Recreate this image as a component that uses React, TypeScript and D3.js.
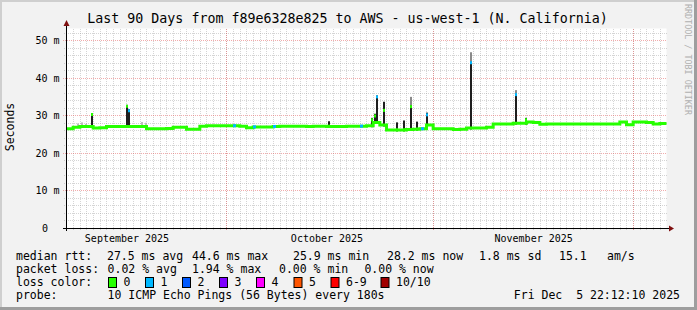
import React from "react";
import * as d3 from "d3";

const W = 697;
const H = 310;

const START = "2025-09-06T22:12:10Z";
const END = "2025-12-05T22:12:10Z";
const MEDIAN_STEP_HOURS = 24;

// daily median rtt (ms)
const medianRtt = [
  26.6, 27.0, 27.2, 27.2, 26.8, 26.9, 27.2, 27.2, 27.2, 27.2,
  27.2, 27.2, 26.6, 26.6, 26.6, 26.7, 27.0, 27.0, 26.5, 26.5,
  27.3, 27.4, 27.4, 27.4, 27.4, 27.4, 27.3, 26.9, 27.1, 27.1,
  27.1, 27.2, 27.3, 27.3, 27.3, 27.3, 27.2, 27.3, 27.3, 27.2,
  27.2, 27.2, 27.3, 27.3, 27.3, 27.4, 28.3, 27.6, 26.3, 26.3,
  26.3, 26.4, 26.5, 26.6, 27.6, 26.6, 26.6, 26.6, 26.4, 26.5,
  26.8, 26.8, 26.8, 27.0, 27.9, 27.9, 27.9, 28.1, 28.1, 28.4,
  28.3, 27.8, 27.9, 27.9, 27.9, 27.9, 27.9, 27.9, 27.9, 27.9,
  27.9, 27.9, 27.9, 28.4, 27.7, 28.4, 28.4, 28.3, 27.9, 28.0,
];

// smoke spikes
const spikeTimes = [
  "2025-09-10T18:00:00Z", "2025-09-15T22:00:00Z", "2025-09-16T05:00:00Z",
  "2025-10-16T07:00:00Z", "2025-10-22T18:00:00Z", "2025-10-23T03:00:00Z",
  "2025-10-23T12:00:00Z", "2025-10-24T10:00:00Z", "2025-10-26T12:00:00Z",
  "2025-10-27T13:00:00Z", "2025-10-28T11:00:00Z", "2025-10-29T12:00:00Z",
  "2025-10-31T00:00:00Z", "2025-11-06T11:00:00Z", "2025-11-13T08:00:00Z",
  "2025-11-14T20:00:00Z",
];
const spikeDarkTop = [30.8, 32.9, 31.8, 28.6, 29.5, 30.6, 35.3, 33.8, 28.3, 28.8, 32.9, 28.5, 30.9, 44.5, 35.9, 29.5];
const spikeMaxTop = [30.8, 33.0, 31.8, 28.6, 29.5, 30.6, 35.6, 33.8, 28.3, 28.8, 35.1, 28.5, 30.9, 47.0, 36.9, 29.5];
const spikeMedian = [30.4, 32.6, 31.4, 27.3, 29.0, 30.0, 35.1, 31.5, 26.3, 26.3, 32.5, 26.5, 30.3, 44.2, 35.7, 29.0];
const spikeLoss = [0, 0, 1, 0, 0, 0, 1, 0, 0, 0, 0, 0, 1, 1, 1, 0];

// light smoke (single grey shade)
const lightSmokeTimes = [
  "2025-09-08T15:30:00Z", "2025-09-09T02:30:00Z", "2025-09-09T16:50:00Z",
  "2025-09-18T06:00:00Z", "2025-09-18T16:50:00Z",
];
const lightSmokeTop = [28.0, 28.3, 27.9, 28.4, 28.2];

// single-packet-loss samples on the median
const lossOneTimes = [
  "2025-10-02T01:00:00Z", "2025-10-05T01:00:00Z", "2025-10-08T01:00:00Z",
  "2025-10-21T02:00:00Z", "2025-10-30T06:00:00Z",
];

const yTicks = [0, 10, 20, 30, 40, 50];
const yTickLabels = ["0", "10 m", "20 m", "30 m", "40 m", "50 m"];
const monthLabels = ["September 2025", "October 2025", "November 2025"];
const monthLabelDates = ["2025-09-16T00:00:00Z", "2025-10-16T00:00:00Z", "2025-11-16T00:00:00Z"];

const lossColors = ["#26ff00", "#00b8ff", "#0059ff", "#7e00ff", "#ff00ff", "#ff5500", "#ff0000", "#a10000"];
const lossLabels = ["0", "1", "2", "3", "4", "5", "6-9", "10/10"];

const legendRtt = ["median rtt:", "27.5 ms avg", "44.6 ms max", "25.9 ms min", "28.2 ms now", "1.8 ms sd", "15.1", "am/s"];
const legendLoss = ["packet loss:", "0.02 % avg", "1.94 % max", "0.00 % min", "0.00 % now"];
const probeText = ["probe:", "10 ICMP Echo Pings (56 Bytes) every 180s", "Fri Dec  5 22:12:10 2025"];
const titleText = "Last 90 Days from f89e6328e825 to AWS - us-west-1 (N. California)";

const MONO = "'DejaVu Sans Mono', 'Liberation Mono', monospace";

export default function App() {
  const start = new Date(START);
  const end = new Date(END);
  const x = d3.scaleUtc().domain([start, end]).range([66.5, 666.5]);
  const y = d3.scaleLinear().domain([0, 53.3333]).range([228.5, 28.5]);

  const px = (v: number) => Math.floor(v) + 0.5;

  const medianPts: [Date, number][] = medianRtt.map((v, i) => [
    new Date(start.getTime() + i * MEDIAN_STEP_HOURS * 3600e3),
    v,
  ]);
  medianPts.push([end, medianRtt[medianRtt.length - 1]]);
  const line = d3
    .line<[Date, number]>()
    .x((d) => x(d[0]))
    .y((d) => y(d[1]))
    .curve(d3.curveStepAfter);

  const medianAt = (t: Date) => {
    const i = Math.min(
      medianRtt.length - 1,
      Math.max(0, Math.floor((t.getTime() - start.getTime()) / (MEDIAN_STEP_HOURS * 3600e3)))
    );
    return medianRtt[i];
  };

  // grid
  const minorY = d3.range(0, 53.3, 2).filter((v) => v % 10 !== 0);
  const days = d3.utcDay.range(d3.utcDay.ceil(start), end);
  const months = d3.utcMonth.range(d3.utcMonth.ceil(start), end);

  const gridMinor = "rgba(150,150,150,0.4)";
  const gridMajor = "rgba(225,70,70,0.45)";

  const legendRttX = [16, 107, 192, 293, 387, 479, 559, 607];
  const legendLossX = [16, 107.6, 192, 279, 364.4];
  const boxX = [108.5, 145.5, 182.5, 219.5, 256.5, 294, 331, 381];
  const probeX = [16, 107.6];

  return (
    <svg width={W} height={H} style={{ display: "block", position: "absolute", left: 0, top: 0 }}>
      <rect x={0} y={0} width={W} height={H} fill="#f2f2f2" />
      {/* frame */}
      <rect x={0} y={0} width={W} height={2} fill="#cfcfcf" />
      <rect x={0} y={0} width={2} height={H} fill="#cfcfcf" />
      <rect x={W - 3} y={0} width={3} height={H} fill="#9e9e9e" />
      <rect x={0} y={H - 3} width={W} height={3} fill="#9e9e9e" />

      {/* canvas */}
      <rect x={66.5} y={28.5} width={600} height={200} fill="#ffffff" />

      {/* minor grid */}
      <g stroke={gridMinor} strokeWidth={1} strokeDasharray="1,1" shapeRendering="crispEdges">
        {minorY.map((v) => (
          <line key={"hy" + v} x1={64} x2={667} y1={px(y(v))} y2={px(y(v))} />
        ))}
        {days.map((d) => (
          <line key={"vx" + d.getTime()} x1={px(x(d))} x2={px(x(d))} y1={28.5} y2={230} />
        ))}
      </g>
      {/* major grid */}
      <g stroke={gridMajor} strokeWidth={1} strokeDasharray="1,1" shapeRendering="crispEdges">
        {yTicks.slice(1).map((v) => (
          <line key={"my" + v} x1={63} x2={667} y1={px(y(v))} y2={px(y(v))} />
        ))}
        {months.map((d) => (
          <line key={"mx" + d.getTime()} x1={px(x(d))} x2={px(x(d))} y1={28.5} y2={231} />
        ))}
      </g>

      {/* light smoke */}
      {lightSmokeTimes.map((t, i) => {
        const tt = new Date(t);
        const base = medianAt(tt);
        return (
          <rect
            key={"ls" + i}
            x={Math.floor(x(tt))}
            y={y(lightSmokeTop[i])}
            width={2}
            height={y(base) - y(lightSmokeTop[i])}
            fill="#bdbdbd"
          />
        );
      })}

      {/* smoke spikes */}
      {spikeTimes.map((t, i) => {
        const tt = new Date(t);
        const base = medianAt(tt) - 0.4;
        const xx = Math.floor(x(tt));
        return (
          <g key={"sp" + i}>
            <rect x={xx} y={y(spikeMaxTop[i])} width={2} height={y(spikeDarkTop[i]) - y(spikeMaxTop[i])} fill="#8a8a8a" />
            <rect x={xx} y={y(spikeDarkTop[i])} width={2} height={y(base) - y(spikeDarkTop[i])} fill="#1e1e1e" />
          </g>
        );
      })}

      {/* median line */}
      <path d={line(medianPts) || ""} fill="none" stroke="#26ff00" strokeWidth={3} />

      {/* spike medians */}
      {spikeTimes.map((t, i) => {
        const tt = new Date(t);
        return (
          <rect
            key={"sm" + i}
            x={Math.floor(x(tt))}
            y={y(spikeMedian[i]) - 1.5}
            width={2}
            height={3}
            fill={lossColors[spikeLoss[i]]}
          />
        );
      })}
      {/* loss markers */}
      {lossOneTimes.map((t, i) => {
        const tt = new Date(t);
        return (
          <rect
            key={"lo" + i}
            x={Math.floor(x(tt))}
            y={y(medianAt(tt)) - 1.5}
            width={3}
            height={3}
            fill={lossColors[1]}
          />
        );
      })}

      {/* axes */}
      <line x1={63} x2={670} y1={228.5} y2={228.5} stroke="#000" strokeWidth={1} shapeRendering="crispEdges" />
      <line x1={66.5} x2={66.5} y1={231} y2={25} stroke="#000" strokeWidth={1} shapeRendering="crispEdges" />
      <path d="M669,225.5 L674,228.5 L669,231.5 Z" fill="#7f1010" />
      <path d="M63.5,26 L66.5,20 L69.5,26 Z" fill="#7f1010" />

      {/* y labels */}
      <g fontFamily={MONO} fontSize={10} fill="#000">
        {yTicks.map((v, i) =>
          v === 0 ? (
            <text key={"yl" + v} x={42} y={y(v) + 3.5}>
              {yTickLabels[i]}
            </text>
          ) : (
            <text key={"yl" + v} x={59.5} y={y(v) + 3.5} textAnchor="end">
              {yTickLabels[i]}
            </text>
          )
        )}
        {monthLabels.map((m, i) => (
          <text key={m} x={x(new Date(monthLabelDates[i]))} y={242} textAnchor="middle">
            {m}
          </text>
        ))}
      </g>

      <text
        x={0}
        y={0}
        transform="translate(14,127) rotate(-90)"
        textAnchor="middle"
        fontFamily={MONO}
        fontSize={11.5}
        fill="#000"
      >
        Seconds
      </text>

      {/* title */}
      <text x={347.5} y={23} textAnchor="middle" fontFamily={MONO} fontSize={13.3} fill="#000">
        {titleText}
      </text>

      {/* watermark */}
      <text
        x={0}
        y={0}
        transform="translate(684.5,4) rotate(90)"
        fontFamily={MONO}
        fontSize={8.4}
        fill="#b0b0b0"
      >
        RRDTOOL / TOBI OETIKER
      </text>

      {/* legend */}
      <g fontFamily={MONO} fontSize={11.5} fill="#000" style={{ whiteSpace: "pre" }}>
        {legendRtt.map((s, i) => (
          <text key={"lr" + i} x={legendRttX[i]} y={260}>
            {s}
          </text>
        ))}
        {legendLoss.map((s, i) => (
          <text key={"ll" + i} x={legendLossX[i]} y={273}>
            {s}
          </text>
        ))}
        <text x={16} y={286}>loss color:</text>
        {lossLabels.map((s, i) => (
          <g key={"lc" + i}>
            <rect x={boxX[i]} y={277.5} width={8} height={10} fill={lossColors[i]} stroke="#000" strokeWidth={1} />
            <text x={boxX[i] + 15} y={286}>
              {s}
            </text>
          </g>
        ))}
        <text x={probeX[0]} y={299}>{probeText[0]}</text>
        <text x={probeX[1]} y={299}>{probeText[1]}</text>
        <text x={680} y={299} textAnchor="end" xmlSpace="preserve">
          {probeText[2]}
        </text>
      </g>
    </svg>
  );
}
